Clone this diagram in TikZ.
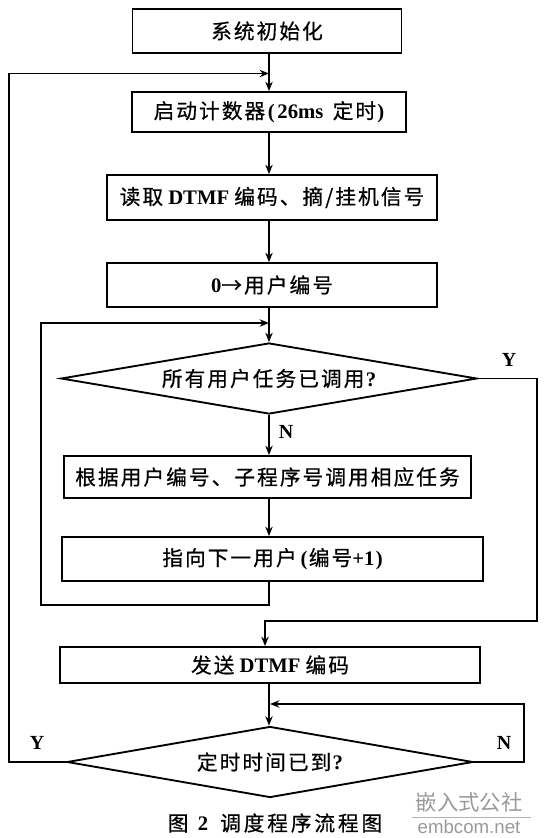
\documentclass[tikz,border=0pt]{standalone}
\usepackage{fontspec}
\setmainfont{Liberation Serif}
\newfontfamily\cjk[LetterSpace=10,FakeBold=0.6]{Noto Sans CJK SC}
\newfontfamily\cjkcap[LetterSpace=14,FakeBold=0.6]{Noto Sans CJK SC}
\newfontfamily\wmcjk{Noto Sans CJK SC}
\newfontfamily\wmlat{Liberation Sans}
\usetikzlibrary{shapes.geometric,arrows.meta}
\newcommand\zh[1]{{\cjk #1}}
\newcommand\lt[1]{{\bfseries #1}}
\begin{document}
\begin{tikzpicture}[x=0.75pt,y=-0.75pt,
  line width=1.4pt,
  txt/.style={font=\fontsize{15.5pt}{18pt}\selectfont, inner sep=0pt},
  box/.style={txt, draw, rectangle},
  dia/.style={txt, draw, diamond},
  arr/.style={-{Stealth[length=7pt,width=5.5pt]}},
  lab/.style={font=\fontsize{15pt}{18pt}\selectfont\bfseries, inner sep=0pt}]
\useasboundingbox (0,0) rectangle (549,838);
\coordinate (spine) at (269,0);
% nodes
\node[box, minimum width=201.75pt, minimum height=33pt] (b1) at (267,31) {\zh{系统初始化}};
\node[box, minimum width=205.5pt, minimum height=30pt] (b2) at (269,112) {\zh{启动计数器}\hspace{2pt}\lt{(\hspace{2pt}26ms}\hspace{7pt}\zh{定时}\hspace{1pt}\lt{)}};
\node[box, minimum width=247.5pt, minimum height=33.75pt] (b3) at (272,197.5) {\zh{读取} \lt{DTMF} \zh{编码、摘/挂机信号}};
\node[box, minimum width=247.5pt, minimum height=33pt] (b4) at (272,285) {\lt{0}\zh{→用户编号}};
\node[dia, aspect=5.86, minimum width=312pt, minimum height=53.25pt] (d1) at (269,378.5) {\zh{所有用户任务已调用}\hspace{1pt}\lt{?}};
\node[box, minimum width=305.25pt, minimum height=31.5pt] (b5) at (267.5,477) {\zh{根据用户编号、子程序号调用相应任务}};
\node[box, minimum width=315.75pt, minimum height=33pt] (b6) at (272.5,559) {\zh{指向下一用户}\hspace{3pt}\lt{(\hspace{1pt}}\zh{编号}\lt{+1\hspace{1pt})}};
\node[box, minimum width=315pt, minimum height=27pt] (b7) at (270,665) {\zh{发送} \lt{DTMF} \zh{编码}};
\node[dia, aspect=5.72, minimum width=304.5pt, minimum height=53.25pt] (d2) at (270,762) {\zh{定时时间已到}\hspace{1pt}\lt{?}};
% labels
\node[lab] (ly1) at (509,360) {Y};
\node[lab] (ln1) at (286,432) {N};
\node[lab] (ly2) at (37,743) {Y};
\node[lab] (ln2) at (504,743) {N};
\node[txt] (cap) at (275,823) {{\cjkcap 图}\hspace{7pt}\lt{2}\hspace{9pt}{\cjkcap 调度程序流程图}};
% watermark
\node[inner sep=0pt, text=black!40, font=\wmcjk\fontsize{16pt}{18pt}\selectfont] (wm1) at (469,802) {嵌入式公社};
\node[inner sep=0pt, text=black!40, font=\wmlat\fontsize{14pt}{16pt}\selectfont] (wm2) at (469,827) {embcom.net};
\draw[black!30, line width=0.9pt] (wm1.south west) ++(-3,5) -- ++(119,0);
% coordinates
\coordinate (j1) at (269,73.5);
\coordinate (lx) at (9,0);
\coordinate (j2) at (269,323);
\coordinate (l2) at (41,605);
\coordinate (r1) at (537,621);
\coordinate (k) at (265,621);
\coordinate (j3) at (270,704);
\coordinate (r2) at (524,704);
% connectors
\draw[arr] (b1.south -| spine) -- (b2.north -| spine);
\draw[arr] (b2.south -| spine) -- (b3.north -| spine);
\draw[arr] (b3.south -| spine) -- (b4.north -| spine);
\draw[arr] (b4.south -| spine) -- (d1.north -| spine);
\draw[arr] (d1.south -| spine) -- (b5.north -| spine);
\draw[arr] (b5.south -| spine) -- (b6.north -| spine);
\draw[arr] (b6.south -| spine) |- (l2) |- (j2);
\draw[arr] (d1.east) -| (r1) -- (k) -- (k |- b7.north);
\draw[arr] (b7.south -| spine) -- (d2.north -| spine);
\draw[arr] (d2.east) -| (r2) -- (j3);
\draw[arr] (d2.west) -| (lx |- j1) -- (j1);
\end{tikzpicture}
\end{document}
